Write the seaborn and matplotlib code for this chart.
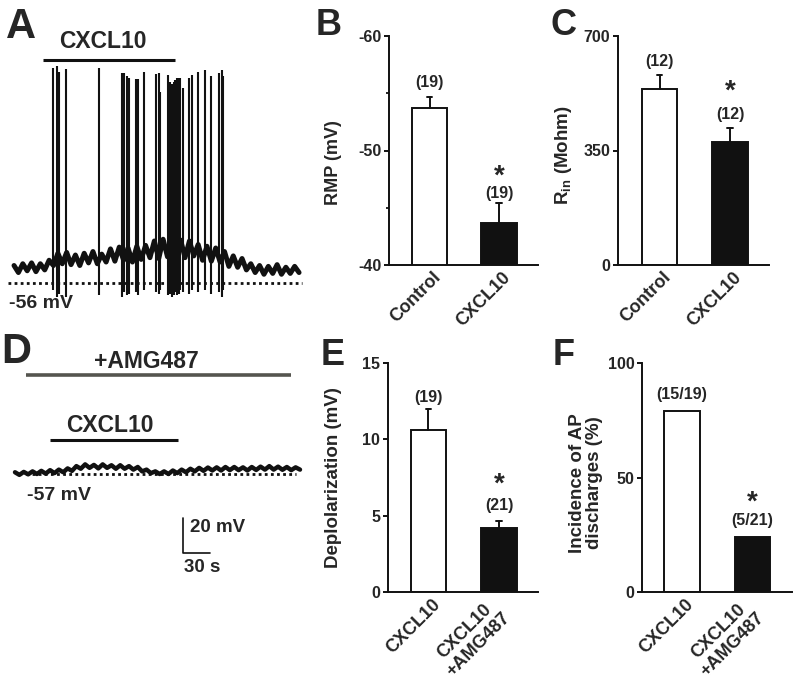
import numpy as np
import pandas as pd
import seaborn as sns
import matplotlib.pyplot as plt
from matplotlib.transforms import ScaledTranslation

# ---------------------------------------------------------
# Data
# ---------------------------------------------------------

# A: current-clamp trace under CXCL10 (time in s, membrane potential in mV)
a_base_t = [0, 5, 10, 15, 20, 25, 30, 35, 40, 45, 50, 55, 60, 65, 70, 75, 80, 85,
            90, 95, 100, 105, 110, 115, 120, 125, 130, 135, 140, 145, 150, 155,
            160, 165, 170, 175, 180, 185, 190, 195, 200, 205, 210, 215, 220, 225,
            230, 235, 240, 245, 250, 255, 260, 265, 270, 275, 280, 285, 290, 295,
            300, 305, 310, 315, 320, 325]
a_base_v = [-46, -50, -45, -49, -44.5, -49.5, -45, -48.5, -43, -46, -39, -45, -38.5,
            -45.5, -40, -46, -39, -44.5, -38, -45, -39.5, -44, -36.5, -43.5, -35.5,
            -43, -36, -44, -35, -42.5, -34.5, -41.5, -32, -42, -31, -41, -30, -40,
            -31.5, -41.5, -32, -40.5, -34, -43, -35, -43.5, -36, -44, -38, -46.5,
            -40.5, -47, -42, -48.5, -45, -50, -46, -51, -46.5, -50.5, -45.5, -51,
            -47, -50.5, -46.5, -50]
a_spike_t = [44.7, 48.5, 51.5, 59.1, 96.9, 123.5, 125.0, 129.2, 131.0, 138.6, 141.3,
             147.7, 162.2, 165.1, 166.7, 175.3, 178.0, 180.3, 182.2, 184.1, 186.0,
             187.8, 189.8, 193.2, 200.0, 202.6, 209.4, 218.2, 224.7, 234.1, 236.7,
             238.6]
a_spike_peak = [66.9, 68.0, 64.6, 66.3, 66.9, 64.0, 64.0, 62.3, 61.1, 60.6, 60.6,
                64.6, 63.4, 64.0, 53.0, 62.9, 58.9, 57.7, 58.9, 60.0, 61.1, 61.1,
                61.1, 55.3, 61.1, 62.9, 64.6, 65.7, 62.3, 64.0, 65.7, 62.3]
a_spike_trough = [-60, -64, -62, -64, -63, -64, -61, -63, -62, -61, -63, -60, -61,
                  -62, -60, -63, -62, -64, -63, -61, -63, -62, -60, -61, -62, -60,
                  -61, -60, -62, -61, -64, -60]
a_rest = -56
a_cxcl10 = [33, 184]

# D: same protocol with AMG487 pre-applied
d_base_t = a_base_t
d_base_v = [-56, -57.5, -55.8, -57.2, -55.5, -57, -55.2, -56.8, -54.8, -56.5, -54.5,
            -56, -53.8, -55.2, -52.5, -54, -51.5, -53.5, -51.8, -53.8, -51.5, -53.5,
            -52, -54, -52, -54, -52.5, -54.5, -53, -55.5, -54.5, -56.5, -55.5, -57,
            -55.5, -57, -55, -56.5, -54.5, -56, -54, -55.5, -53.5, -55.2, -53.3, -55,
            -53.2, -55, -53, -54.8, -53, -54.8, -53.2, -55, -53, -54.7, -52.8, -54.5,
            -52.5, -54.5, -52.8, -54.6, -53, -54.8, -53.2, -54.5]
d_rest = -57
d_amg487 = [12, 315]
d_cxcl10 = [40, 186]
scale_mv = 20
scale_s = 30

# B, C
bc_groups = ['Control', 'CXCL10']
rmp_mean = [-53.7, -43.7]
rmp_sem = [1.0, 1.7]
rmp_n = ['(19)', '(19)']
rin_mean = [538, 376]
rin_sem = [43, 43]
rin_n = ['(12)', '(12)']

# E, F
ef_groups = ['CXCL10', 'CXCL10\n+AMG487']
depol_mean = [10.6, 4.2]
depol_sem = [1.4, 0.45]
depol_n = ['(19)', '(21)']
ap_pct = [78.9, 23.8]
ap_n = ['(15/19)', '(5/21)']

# ---------------------------------------------------------
# Style
# ---------------------------------------------------------
sns.set_theme(style='ticks')
plt.rcParams['font.family'] = ['Liberation Sans', 'DejaVu Sans']
plt.rcParams['font.weight'] = 'bold'
plt.rcParams['axes.unicode_minus'] = False
plt.rcParams['mathtext.fontset'] = 'custom'
plt.rcParams['mathtext.rm'] = 'Liberation Sans:bold'
plt.rcParams['mathtext.default'] = 'rm'

W, H = 800, 681
fig = plt.figure(figsize=(W / 100, H / 100), dpi=100)


def rect(x0, y0, x1, y1):
    return [x0 / W, 1 - y1 / H, (x1 - x0) / W, (y1 - y0) / H]


def ftext(x, y, s, **kw):
    fig.text(x / W, 1 - y / H, s, **kw)


LW = 1.4
INK = '#111111'

# ---------------------------------------------------------
# Traces (A, D)
# ---------------------------------------------------------
axA = fig.add_axes(rect(0, 0, 310, 300))
sns.lineplot(x=a_base_t, y=a_base_v, sort=False, estimator=None, color=INK,
             lw=3.6, ax=axA)
axA.vlines(a_spike_t, a_spike_trough, a_spike_peak, color=INK, lw=1.5)
axA.plot([-7, 328], [a_rest, a_rest], color=INK, lw=2, ls=(0, (1, 1.2)))
axA.plot(a_cxcl10, [71.4, 71.4], color=INK, lw=2.2, solid_capstyle='butt')
axA.set_xlim(-16, 337.5)
axA.set_ylim(-65.7, 105.7)
axA.axis('off')

axD = fig.add_axes(rect(0, 320, 310, 600))
sns.lineplot(x=d_base_t, y=d_base_v, sort=False, estimator=None, color=INK,
             lw=3.2, ax=axD)
axD.plot([12, 320], [d_rest, d_rest], color=INK, lw=2, ls=(0, (1, 1.2)))
axD.plot(d_amg487, [-0.4, -0.4], color='#55554f', lw=2.6, solid_capstyle='butt')
axD.plot(d_cxcl10, [-37.6, -37.6], color=INK, lw=2.2, solid_capstyle='butt')
# scale bar
axD.plot([192, 192, 192 + scale_s], [-82, -82 - scale_mv, -82 - scale_mv],
         color=INK, lw=1.2)
axD.set_xlim(-17.1, 336.4)
axD.set_ylim(-129, 31)
axD.axis('off')

ftext(103, 42, 'CXCL10', fontsize=16.5, ha='center', va='center')
ftext(9, 304, '-56 mV', fontsize=14, ha='left', va='center')
ftext(146, 362, '+AMG487', fontsize=16.5, ha='center', va='center')
ftext(110, 425, 'CXCL10', fontsize=16.5, ha='center', va='center')
ftext(27, 496, '-57 mV', fontsize=14, ha='left', va='center')
ftext(190, 527, f'{scale_mv} mV', fontsize=13.5, ha='left', va='center')
ftext(184, 568, f'{scale_s} s', fontsize=13.5, ha='left', va='center')

# ---------------------------------------------------------
# Bar panels
# ---------------------------------------------------------


def bar_panel(r, xlim, groups, means, sems, labels, ylim, yticks, n_off, star_off,
              width=0.5, minor=None):
    ax = fig.add_axes(r)
    df = pd.DataFrame({'g': groups, 'v': means})
    sns.barplot(data=df, x='g', y='v', hue='g', palette=['white', INK],
                edgecolor=INK, linewidth=LW, width=width, legend=False, ax=ax)
    tops = list(means)
    if sems is not None:
        sign = -1 if ylim[0] > ylim[1] else 1
        for i, (m, s) in enumerate(zip(means, sems)):
            ax.plot([i, i], [m, m + sign * s], color=INK, lw=LW)
            ax.plot([i - 0.04, i + 0.04], [m + sign * s] * 2, color=INK, lw=LW)
            tops[i] = m + sign * s
    for i, (t, lab) in enumerate(zip(tops, labels)):
        ax.annotate(lab, (i, t), xytext=(0, n_off[i]), textcoords='offset points',
                    ha='center', va='center', fontsize=11.5)
    ax.annotate('*', (1, tops[1]), xytext=(0, star_off), textcoords='offset points',
                ha='center', va='center', fontsize=20)
    ax.set_xlim(*xlim)
    ax.set_ylim(*ylim)
    ax.set_yticks(yticks)
    if minor is not None:
        ax.set_yticks(minor, minor=True)
        ax.tick_params(axis='y', which='minor', length=2, width=LW, direction='out')
    ax.set_xlabel('')
    ax.set_ylabel('')
    sns.despine(ax=ax)
    for sp in ax.spines.values():
        sp.set_linewidth(LW)
        sp.set_color(INK)
    ax.tick_params(axis='y', length=3.5, width=LW, labelsize=11.5, pad=2,
                   color=INK)
    ax.tick_params(axis='x', length=0, labelsize=13, pad=2)
    ax.set_xticks(range(len(groups)))
    ax.set_xticklabels(groups, rotation=45, ha='right', va='top',
                       multialignment='center')
    off = ScaledTranslation(0.15, -0.01, fig.dpi_scale_trans)
    for t in ax.get_xticklabels():
        t.set_transform(t.get_transform() + off)
    return ax


axB = bar_panel(rect(389, 36, 538, 265), (-0.583, 1.561), bc_groups, rmp_mean,
                rmp_sem, rmp_n, (-40, -60), [-60, -50, -40], [10, 7], 19,
                width=0.51, minor=[-55, -45])
axC = bar_panel(rect(618, 36, 769, 265), (-0.589, 1.553), bc_groups, rin_mean,
                rin_sem, rin_n, (0, 700), [0, 350, 700], [9.5, 9.5], 26)
axE = bar_panel(rect(388, 363, 538, 592), (-0.574, 1.553), ef_groups, depol_mean,
                depol_sem, depol_n, (0, 15), [0, 5, 10, 15], [8, 11.5], 26)
axF = bar_panel(rect(642, 363, 792, 592), (-0.567, 1.560), ef_groups, ap_pct,
                None, ap_n, (0, 100), [0, 50, 100], [12, 12], 25, width=0.51)

# y labels
ftext(334, 163, 'RMP (mV)', fontsize=13, rotation=90, ha='center', va='center')
ftext(564, 155, r'R$_{\mathrm{in}}$ (Mohm)', fontsize=13.5, rotation=90,
      ha='center', va='center')
ftext(333, 478, 'Deplolarization (mV)', fontsize=13.5, rotation=90, ha='center',
      va='center')
ftext(586, 483, 'Incidence of AP\ndischarges (%)', fontsize=13.5, rotation=90,
      ha='center', va='center', linespacing=1.0)

# panel letters
for x, y, s, fs in [(6, 38, 'A', 30), (316, 35, 'B', 26), (551, 35, 'C', 26),
                    (1, 363, 'D', 30), (321, 365, 'E', 26), (553, 365, 'F', 26)]:
    ftext(x, y, s, fontsize=fs, ha='left', va='baseline')

fig.savefig('out.png', dpi=100)
